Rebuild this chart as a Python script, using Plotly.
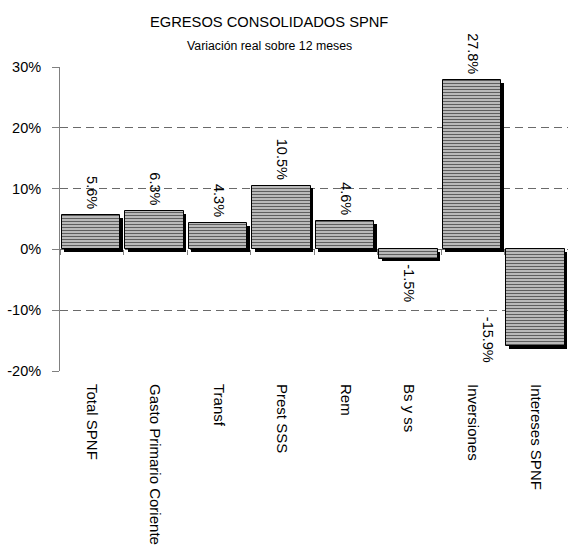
import numpy as np
import plotly.graph_objects as go

categories = ["Total SPNF", "Gasto Primario Coriente", "Transf", "Prest SSS", "Rem",
              "Bs y ss", "Inversiones", "Intereses SPNF"]
values = [5.6, 6.3, 4.3, 10.5, 4.6, -1.5, 27.8, -15.9]
labels = ["5.6%", "6.3%", "4.3%", "10.5%", "4.6%", "-1.5%", "27.8%", "-15.9%"]
y_ticks = [-20, -10, 0, 10, 20, 30]
y_tick_text = ["-20%", "-10%", "0%", "10%", "20%", "30%"]

FONT = "Liberation Sans, Arial, sans-serif"
YMIN, YMAX = -20, 30
W, H = 568, 549
ML, MR, MT, MB = 60, 0, 67, 178
plot_h = H - MT - MB
px_per_unit = plot_h / (YMAX - YMIN)
shadow_d = 2.5 / px_per_unit

xi = np.arange(len(categories))

fig = go.Figure()
# shadow
fig.add_trace(go.Bar(
    x=xi, y=values, base=[-shadow_d] * len(values),
    offset=-0.43, width=0.915,
    marker=dict(color="black", line=dict(width=0)),
    hoverinfo="skip", showlegend=False,
))
# main bars
fig.add_trace(go.Bar(
    x=xi, y=values,
    offset=-0.47, width=0.915,
    marker=dict(color="#b8b8b8",
                pattern=dict(shape="-", fgcolor="black", bgcolor="#bdbdbd", size=3, solidity=0.36),
                line=dict(color="black", width=1)),
    showlegend=False,
))

# value labels
VAL_SIZE = 14.5
for i, (v, t) in enumerate(zip(values, labels)):
    if i == len(values) - 1:
        fig.add_annotation(x=i, y=v, text=t, textangle=90, showarrow=False,
                           xanchor="center", yanchor="middle", xshift=-48, yshift=6,
                           font=dict(family=FONT, size=VAL_SIZE, color="black"))
    elif v >= 0:
        fig.add_annotation(x=i, y=v, text=t, textangle=90, showarrow=False,
                           xanchor="center", yanchor="bottom", yshift=4,
                           font=dict(family=FONT, size=VAL_SIZE, color="black"))
    else:
        fig.add_annotation(x=i, y=v, text=t, textangle=90, showarrow=False,
                           xanchor="center", yanchor="top", yshift=-4,
                           font=dict(family=FONT, size=VAL_SIZE, color="black"))

# titles
fig.add_annotation(xref="paper", yref="paper", x=(269 - ML) / (W - ML - MR), y=1 + (67 - 22) / plot_h,
                   text="EGRESOS CONSOLIDADOS SPNF", showarrow=False, xanchor="center", yanchor="middle",
                   font=dict(family=FONT, size=14.7, color="black"))
fig.add_annotation(xref="paper", yref="paper", x=(269 - ML) / (W - ML - MR), y=1 + (67 - 46) / plot_h,
                   text="Variación real sobre 12 meses", showarrow=False, xanchor="center", yanchor="middle",
                   font=dict(family=FONT, size=12.3, color="black"))

fig.update_layout(
    width=W, height=H,
    margin=dict(l=ML, r=MR, t=MT, b=MB, pad=0, autoexpand=False),
    paper_bgcolor="white", plot_bgcolor="white",
    barmode="overlay", bargap=0,
    xaxis=dict(
        range=[-0.5, len(categories) - 0.5],
        tickmode="array", tickvals=xi, ticktext=categories,
        tickangle=90, ticks="", showgrid=False, zeroline=False, showline=False,
        tickfont=dict(family=FONT, size=15, color="black"),
        ticklabelstandoff=12, automargin=False,
    ),
    xaxis2=dict(
        overlaying="x", anchor="free",
        position=(0 - YMIN) / (YMAX - YMIN),
        range=[-0.5, len(categories) - 0.5],
        tickmode="array", tickvals=np.arange(len(categories) + 1) - 0.5,
        ticks="outside", ticklen=5, tickcolor="#808080", tickwidth=1,
        showticklabels=False, showgrid=False, zeroline=False,
        showline=False, automargin=False,
    ),
    yaxis=dict(
        range=[YMIN, YMAX],
        tickmode="array", tickvals=y_ticks, ticktext=y_tick_text,
        ticks="outside", ticklen=7, tickcolor="#808080", tickwidth=1,
        showline=True, linecolor="#808080", linewidth=1,
        showgrid=True, gridcolor="#6a6a6a", gridwidth=1, griddash="8px,5px",
        zeroline=False,
        tickfont=dict(family=FONT, size=14.5, color="black"),
        ticklabelstandoff=8, automargin=False,
    ),
)
# dummy trace to activate xaxis2
fig.add_trace(go.Scatter(x=[None], y=[None], xaxis="x2", showlegend=False, hoverinfo="skip"))

fig.write_html("out.html")
